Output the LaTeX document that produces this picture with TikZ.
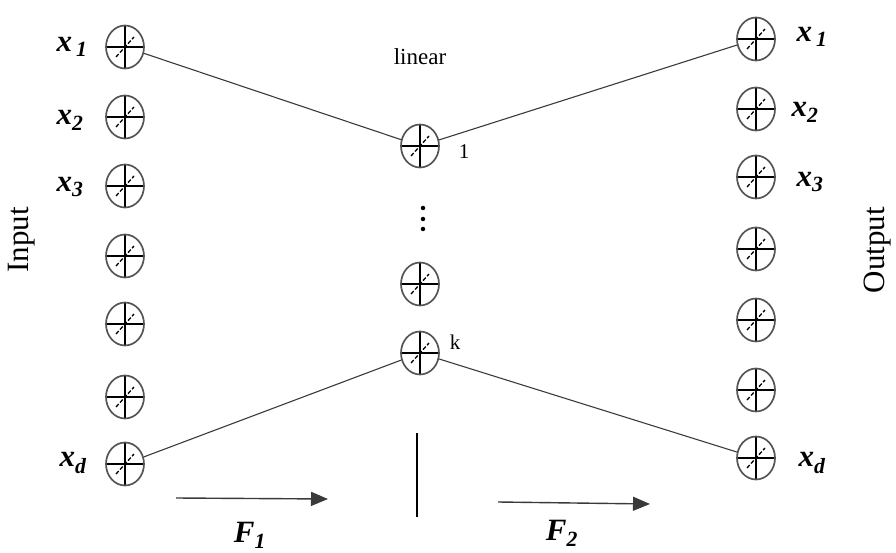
\documentclass[tikz,border=0pt]{standalone}
\usepackage{fontspec}
\setmainfont{Liberation Serif}
\usepackage{xcolor}
\usetikzlibrary{shapes.geometric,arrows.meta,calc}
\definecolor{rim}{HTML}{555555}
\definecolor{wire}{HTML}{3a3a3a}
\newcommand{\var}[1]{\textbf{\textit{x\textsubscript{#1}}}}
\newcommand{\fsz}[1]{\fontsize{#1}{#1}\selectfont}

\begin{document}
\begin{tikzpicture}[x=1pt,y=-1pt,
  unit/.style={ellipse,draw=rim,line width=1.7pt,minimum width=38pt,minimum height=43pt,inner sep=0pt,
    path picture={
      \draw[black,line width=1.3pt] (path picture bounding box.north) -- (path picture bounding box.south)
        (path picture bounding box.west) -- (path picture bounding box.east);
      \draw[black,line width=1.3pt,dash pattern=on 4pt off 2pt]
        ($(path picture bounding box.center)+(-9,10)$) -- ($(path picture bounding box.center)+(9,-10)$);}},
  lbl/.style={font=\fsz{31},inner sep=0pt},
  small/.style={font=\fsz{21},inner sep=0pt},
  dot/.style={circle,fill=black,inner sep=0pt,minimum size=4.5pt},
  link/.style={draw=wire,line width=1.1pt},
  arr/.style={-{Triangle[length=17pt,width=14pt]},draw=wire,line width=1.4pt}]
  \useasboundingbox (0,0) rectangle (896,553);
  % input and output columns
  \foreach \y [count=\i] in {47,117,186,256,324,397,464}
    \node[unit] (in\i) at (125,\y) {};
  \foreach \y [count=\i] in {39,109,177,249,320,390,458}
    \node[unit] (out\i) at (756,\y) {};
  % hidden layer
  \node[unit] (h1) at (420,146) {};
  \node[unit] (h2) at (420,284) {};
  \node[unit] (hk) at (420,353) {};
  \foreach \y [count=\i] in {208,219,229}
    \node[dot] (d\i) at (423,\y) {};
  \node[small] (n1) at (464,152) {1};
  \node[small] (nk) at (455,342) {k};
  \node[font=\fsz{23},inner sep=0pt] (lin) at (420,57) {linear};
  % connections
  \draw[link] (in1) -- (h1);
  \draw[link] (h1) -- (out1);
  \draw[link] (in7) -- (hk);
  \draw[link] (hk) -- (out7);
  % variable labels
  \node[lbl] (a1) at (72,47) {\textbf{\textit{x\hspace{4pt}\textsubscript{1}}}};
  \node[lbl] (a2) at (70,120) {\var{2}};
  \node[lbl] (a3) at (70,187) {\var{3}};
  \node[lbl] (ad) at (73,463) {\var{d}};
  \node[lbl] (b1) at (812,37) {\textbf{\textit{x\hspace{4pt}\textsubscript{1}}}};
  \node[lbl] (b2) at (805,112) {\var{2}};
  \node[lbl] (b3) at (810,182) {\var{3}};
  \node[lbl] (bd) at (812,463) {\var{d}};
  \node[lbl,rotate=90] (inp) at (22,240) {Input};
  \node[lbl,rotate=90] (outp) at (878,250) {Output};
  % mappings
  \coordinate (f1s) at (176,498);
  \coordinate (f1e) at (328,499);
  \coordinate (f2s) at (498,502);
  \coordinate (f2e) at (650,504);
  \draw[arr] (f1s) -- (f1e);
  \draw[arr] (f2s) -- (f2e);
  \coordinate (bt) at (417,433);
  \coordinate (bb) at (417,517);
  \draw[black,line width=2.6pt] (bt) -- (bb);
  \node[lbl] (F1) at (250,535) {\textbf{\textit{F\textsubscript{1}}}};
  \node[lbl] (F2) at (562,533) {\textbf{\textit{F\textsubscript{2}}}};
\end{tikzpicture}
\end{document}
